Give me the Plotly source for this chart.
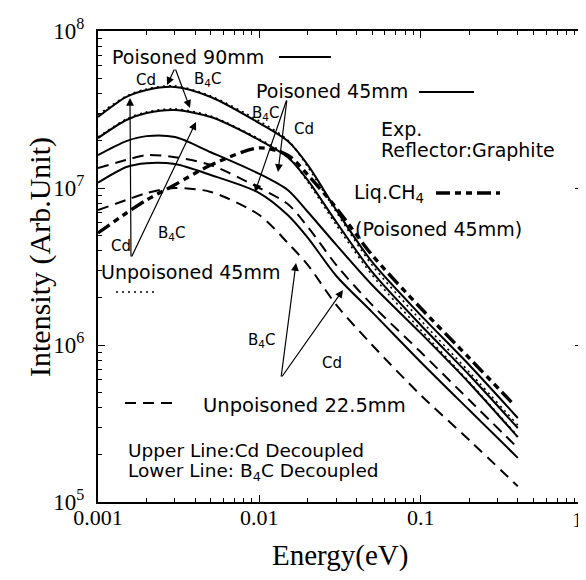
import plotly.graph_objects as go

# ---------------- data ----------------
energy = [0.001, 0.0015, 0.002, 0.003, 0.005, 0.01, 0.015, 0.02, 0.03, 0.05, 0.1, 0.2, 0.4]
energy_ch4 = [0.001, 0.0015, 0.002, 0.003, 0.005, 0.01, 0.015, 0.02, 0.03, 0.05, 0.1, 0.2, 0.38]

poisoned90_cd = [2.83e7, 3.80e7, 4.21e7, 4.40e7, 3.80e7, 2.59e7, 1.99e7, 1.40e7, 7.24e6, 3.38e6, 1.55e6, 7.46e5, 3.43e5]
poisoned90_b4c = [2.08e7, 2.71e7, 3.00e7, 3.14e7, 2.83e7, 2.02e7, 1.57e7, 1.12e7, 6.07e6, 2.92e6, 1.34e6, 6.44e5, 2.96e5]
poisoned45_cd = [1.62e7, 1.99e7, 2.14e7, 2.11e7, 1.69e7, 1.23e7, 9.71e6, 7.03e6, 4.34e6, 2.41e6, 1.19e6, 5.73e5, 2.59e5]
poisoned45_b4c = [1.08e7, 1.36e7, 1.44e7, 1.42e7, 1.21e7, 9.29e6, 6.73e6, 4.81e6, 2.75e6, 1.62e6, 7.80e5, 3.85e5, 1.91e5]
unpoisoned45_cd = [2.92e7, 3.85e7, 4.27e7, 4.47e7, 3.85e7, 2.67e7, 2.02e7, 1.36e7, 7.03e6, 3.23e6, 1.44e6, 6.73e5, 3.09e5]
unpoisoned45_b4c = [2.11e7, 2.75e7, 3.05e7, 3.19e7, 2.87e7, 2.05e7, 1.60e7, 1.09e7, 5.81e6, 2.79e6, 1.25e6, 5.81e5, 2.63e5]
unpoisoned22_cd = [1.34e7, 1.51e7, 1.62e7, 1.57e7, 1.40e7, 1.00e7, 7.91e6, 5.65e6, 3.23e6, 1.80e6, 9.02e5, 4.46e5, 2.21e5]
unpoisoned22_b4c = [7.24e6, 8.39e6, 9.29e6, 1.00e7, 9.44e6, 6.73e6, 4.47e6, 3.23e6, 1.80e6, 1.00e6, 4.80e5, 2.48e5, 1.26e5]
liq_ch4 = [5.17e6, 6.93e6, 8.39e6, 1.05e7, 1.40e7, 1.80e7, 1.62e7, 1.21e7, 7.46e6, 3.74e6, 1.72e6, 8.26e5, 4.15e5]

x_tickvals = [0.001, 0.01, 0.1, 1]
x_ticktext = ["0.001", "0.01", "0.1", ""]
y_tickvals = [1e5, 1e6, 1e7, 1e8]
y_ticktext = ["10<sup>5</sup>", "10<sup>6</sup>", "10<sup>7</sup>", "10<sup>8</sup>"]
x_minor = [k * 10.0 ** n for n in (-3, -2, -1) for k in range(2, 10)]
y_minor = [k * 10.0 ** n for n in (5, 6, 7) for k in range(2, 10)]

# ---------------- layout geometry ----------------
OFF = 8                      # page body margin of the browser
W, H = 586 - OFF, 580 - OFF
PL, PR, PT, PB = 98, 582, 31, 502   # plot area in window pixels
L, T = PL - OFF, PT - OFF
R, B = W - (PR - OFF), H - (PB - OFF)
PW, PH = PR - PL, PB - PT

SOLID = dict(color="black", width=2)
DOTTED = dict(color="black", width=1.6, dash="2px,4px")
DASHED = dict(color="black", width=2, dash="11px,7px")
CH4 = dict(color="black", width=3.4, dash="14px,5px,6px,5px,6px,5px")
SANS = "DejaVu Sans"
SERIF = "Liberation Serif"


def px(x, y):
    return (x - PL) / PW, (PB - y) / PH


fig = go.Figure()
series = [
    (energy, unpoisoned45_cd, DOTTED), (energy, unpoisoned45_b4c, DOTTED),
    (energy, unpoisoned22_cd, DASHED), (energy, unpoisoned22_b4c, DASHED),
    (energy, poisoned90_cd, SOLID), (energy, poisoned90_b4c, SOLID),
    (energy, poisoned45_cd, SOLID), (energy, poisoned45_b4c, SOLID),
    (energy_ch4, liq_ch4, CH4),
]
for xs, ys, ln in series:
    fig.add_trace(go.Scatter(x=xs, y=ys, mode="lines", line=dict(shape="spline", smoothing=0.8, **ln),
                             showlegend=False, hoverinfo="skip"))

ann = []


def text(x, y, s, size=19, anchor="left", family=SANS, angle=0):
    X, Y = px(x, y)
    ann.append(dict(x=X, y=Y, xref="paper", yref="paper", text=s, showarrow=False, textangle=angle,
                    xanchor=anchor, yanchor="middle", font=dict(family=family, size=size, color="black")))


def arrow(tail, tip):
    X, Y = px(*tip)
    ann.append(dict(x=X, y=Y, xref="paper", yref="paper", text="", showarrow=True,
                    ax=tail[0] - tip[0], ay=tail[1] - tip[1], arrowhead=2, arrowsize=1.3,
                    arrowwidth=1.2, arrowcolor="black"))


text(110, 57, "Poisoned 90mm")
text(134, 80, "Cd", 15)
text(192, 80, "B<sub>4</sub>C", 15)
arrow((175, 68), (167, 85))
arrow((175, 68), (190, 108))

text(254, 91, "Poisoned 45mm")
text(250, 114, "B<sub>4</sub>C", 15)
text(292, 129, "Cd", 15)
arrow((287, 99), (255, 192))
arrow((287, 99), (278, 172))

text(379, 129, "Exp.", 19)
text(379, 150, "Reflector:Graphite", 19)
text(352, 193, "Liq.CH<sub>4</sub>", 19)
text(353, 229, "(Poisoned 45mm)", 19)

text(109, 246, "Cd", 15)
text(156, 233, "B<sub>4</sub>C", 15)
arrow((131, 258), (130, 98))
arrow((131, 258), (196, 122))
text(99, 272, "Unpoisoned 45mm", 19)

text(246, 340, "B<sub>4</sub>C", 15)
text(320, 363, "Cd", 15)
arrow((281, 378), (296, 263))
arrow((281, 378), (343, 290))
text(201, 405, "Unpoisoned 22.5mm", 19.5)

text(126, 450, "Upper Line:Cd Decoupled", 18.5)
text(126, 472, "Lower Line: B<sub>4</sub>C Decoupled", 18.5)

# axis titles and the last x tick label
text(40, 257, "Intensity (Arb.Unit)", 30, "center", SERIF, -90)
text(340, 555, "Energy(eV)", 29, "center", SERIF)
text(577, 519, "1", 22, "center", SERIF)

# legend line samples
shapes = []
for (x0, x1, y, ln) in [(279, 331, 57, SOLID), (419, 474, 92, SOLID), (436, 500, 193, CH4),
                        (116, 158, 292, DOTTED), (125, 176, 403, DASHED)]:
    X0, Y = px(x0, y)
    X1, _ = px(x1, y)
    shapes.append(dict(type="line", xref="paper", yref="paper", x0=X0, x1=X1, y0=Y, y1=Y, line=ln))

axis_common = dict(type="log", showline=True, linecolor="black", linewidth=2, mirror="allticks",
                   ticks="inside", ticklen=7, tickwidth=1.2, tickcolor="black", showgrid=False, zeroline=False)

fig.update_layout(
    width=W, height=H, margin=dict(l=L, r=R, t=T, b=B, autoexpand=False),
    plot_bgcolor="white", paper_bgcolor="white",
    xaxis=dict(range=[-3, 0], tickvals=x_tickvals, ticktext=x_ticktext, ticklabelstandoff=-5,
               tickfont=dict(family=SERIF, size=22, color="black"),
               minor=dict(tickvals=x_minor, ticks="inside", ticklen=4, tickcolor="black", showgrid=False),
               **axis_common),
    yaxis=dict(range=[5, 8], tickvals=y_tickvals, ticktext=y_ticktext, ticklabelstandoff=7,
               tickfont=dict(family=SERIF, size=23, color="black"),
               minor=dict(tickvals=y_minor, ticks="inside", ticklen=4, tickcolor="black", showgrid=False),
               **axis_common),
    annotations=ann, shapes=shapes,
)

fig.write_html("out.html")
